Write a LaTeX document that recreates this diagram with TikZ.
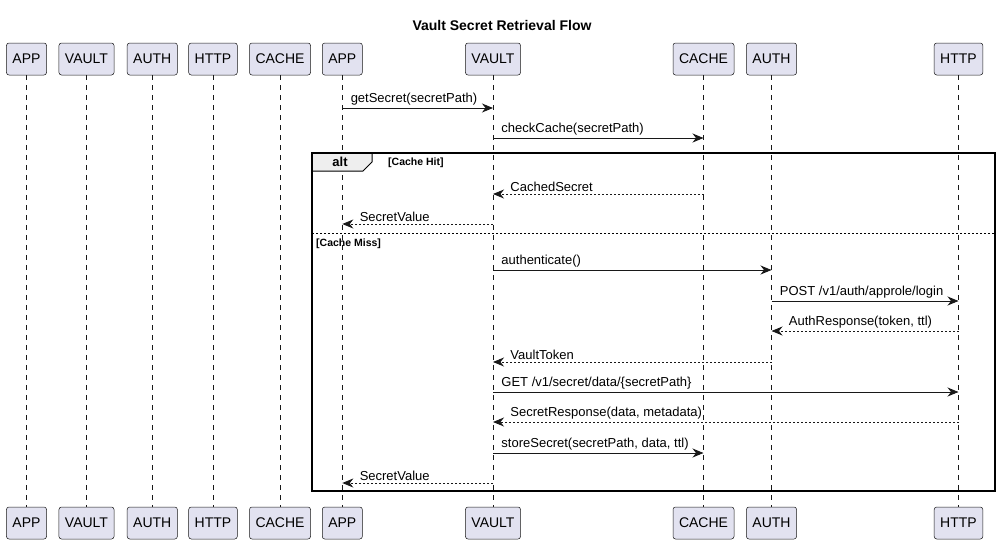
\documentclass[tikz,border=0pt]{standalone}
\usepackage{fontspec}
\setmainfont{Liberation Sans}
\usetikzlibrary{arrows.meta}
\definecolor{partfill}{HTML}{E2E2F0}
\definecolor{partline}{HTML}{181818}
\definecolor{tabfill}{HTML}{EEEEEE}
\tikzset{
  part/.style={draw=partline, line width=0.5pt, fill=partfill, rounded corners=2.5pt,
    minimum height=32pt, inner xsep=6pt, font=\fontsize{14}{14}\selectfont},
  life/.style={draw=partline, line width=0.5pt, dash pattern=on 5pt off 5pt},
  msg/.style={draw=partline, line width=0.9pt, -{Stealth[length=11pt,width=9pt,inset=3.5pt]}},
  reply/.style={msg, dash pattern=on 2pt off 2pt},
  lbl/.style={font=\fontsize{13}{13}\selectfont, inner sep=0pt, anchor=south west},
}
\begin{document}
\begin{tikzpicture}[x=1pt,y=-1pt]
\useasboundingbox (0,0) rectangle (1000,544);
\node[font=\bfseries\fontsize{14}{14}\selectfont] (title) at (502,25) {Vault Secret Retrieval Flow};
% top participants
\node[part] (pa1) at (26.5,59) {APP};
\node[part] (pv1) at (86.5,59) {VAULT};
\node[part] (pau1) at (152.3,59) {AUTH};
\node[part] (ph1) at (213,59) {HTTP};
\node[part] (pc1) at (280,59) {CACHE};
\node[part] (pa2) at (342.3,59) {APP};
\node[part] (pv2) at (493,59) {VAULT};
\node[part] (pc2) at (703.5,59) {CACHE};
\node[part] (pau2) at (771.5,59) {AUTH};
\node[part] (ph2) at (958.5,59) {HTTP};
% bottom participants
\node[part] (ba1) at (26.5,523) {APP};
\node[part] (bv1) at (86.5,523) {VAULT};
\node[part] (bau1) at (152.3,523) {AUTH};
\node[part] (bh1) at (213,523) {HTTP};
\node[part] (bc1) at (280,523) {CACHE};
\node[part] (ba2) at (342.3,523) {APP};
\node[part] (bv2) at (493,523) {VAULT};
\node[part] (bc2) at (703.5,523) {CACHE};
\node[part] (bau2) at (771.5,523) {AUTH};
\node[part] (bh2) at (958.5,523) {HTTP};
% lifelines
\foreach \t/\b in {pa1/ba1,pv1/bv1,pau1/bau1,ph1/bh1,pc1/bc1,pa2/ba2,pv2/bv2,pc2/bc2,pau2/bau2,ph2/bh2}
  \draw[life] (\t.south) -- (\b.north);
% alt frame
\coordinate (ftl) at (312,153);
\coordinate (fbr) at (995,491);
\draw[fill=tabfill, draw=black, line width=1pt] (ftl) -- (372,153) -- (372,162) -- (363,171) -- (312,171) -- cycle;
\draw[black, line width=1.5pt] (ftl) rectangle (fbr);
\node[font=\bfseries\fontsize{13}{13}\selectfont] (alt) at (340,162) {alt};
\node[font=\bfseries\fontsize{10.5}{10.5}\selectfont, anchor=west, inner sep=0pt] (hit) at (388,162.5) {[Cache Hit]};
\coordinate (sepl) at (312,233);
\coordinate (sepr) at (995,233);
\draw[black, line width=0.8pt, dash pattern=on 2pt off 2pt] (sepl) -- (sepr);
\node[font=\bfseries\fontsize{10.5}{10.5}\selectfont, anchor=west, inner sep=0pt] (miss) at (316,243.5) {[Cache Miss]};
% message rows
\coordinate (m1) at (0,108);
\coordinate (m2) at (0,138);
\coordinate (m3) at (0,194);
\coordinate (m4) at (0,224);
\coordinate (m5) at (0,270);
\coordinate (m6) at (0,301);
\coordinate (m7) at (0,331);
\coordinate (m8) at (0,362);
\coordinate (m9) at (0,392);
\coordinate (m10) at (0,422);
\coordinate (m11) at (0,453);
\coordinate (m12) at (0,483);
\draw[msg] (pa2 |- m1) -- node[lbl, pos=0, xshift=8pt, yshift=2pt] {getSecret(secretPath)} (pv2 |- m1);
\draw[msg] (pv2 |- m2) -- node[lbl, pos=0, xshift=8pt, yshift=2pt] {checkCache(secretPath)} (pc2 |- m2);
\draw[reply] (pc2 |- m3) -- node[lbl, pos=1, xshift=17pt, yshift=2pt] {CachedSecret} (pv2 |- m3);
\draw[reply] (pv2 |- m4) -- node[lbl, pos=1, xshift=17pt, yshift=2pt] {SecretValue} (pa2 |- m4);
\draw[msg] (pv2 |- m5) -- node[lbl, pos=0, xshift=8pt, yshift=2pt] {authenticate()} (pau2 |- m5);
\draw[msg] (pau2 |- m6) -- node[lbl, pos=0, xshift=8pt, yshift=2pt] {POST /v1/auth/approle/login} (ph2 |- m6);
\draw[reply] (ph2 |- m7) -- node[lbl, pos=1, xshift=17pt, yshift=2pt] {AuthResponse(token, ttl)} (pau2 |- m7);
\draw[reply] (pau2 |- m8) -- node[lbl, pos=1, xshift=17pt, yshift=2pt] {VaultToken} (pv2 |- m8);
\draw[msg] (pv2 |- m9) -- node[lbl, pos=0, xshift=8pt, yshift=2pt] {GET /v1/secret/data/\{secretPath\}} (ph2 |- m9);
\draw[reply] (ph2 |- m10) -- node[lbl, pos=1, xshift=17pt, yshift=2pt] {SecretResponse(data, metadata)} (pv2 |- m10);
\draw[msg] (pv2 |- m11) -- node[lbl, pos=0, xshift=8pt, yshift=2pt] {storeSecret(secretPath, data, ttl)} (pc2 |- m11);
\draw[reply] (pv2 |- m12) -- node[lbl, pos=1, xshift=17pt, yshift=2pt] {SecretValue} (pa2 |- m12);
\end{tikzpicture}
\end{document}
